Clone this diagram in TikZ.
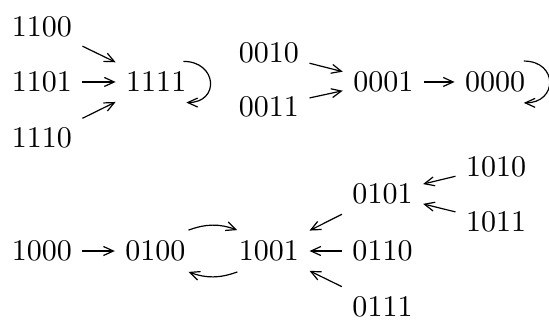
\documentclass[tikz,border=0pt]{standalone}
\usepackage{tikz}
\usetikzlibrary{arrows.meta}

\begin{document}
\begin{tikzpicture}
		\tikzstyle{etat} = [inner sep=3.33pt]
		\tikzstyle{fleche} = [-{Straight Barb[length=3.3pt,width=3pt]},line width=0.4pt]
		
		\useasboundingbox (0,0) rectangle (6.43,3.75);
		
		\node[etat](A1) at (0.49,3.44) {1100};
		\node[etat](A2) at (0.49,2.79) {1101};
		\node[etat](A3) at (0.49,2.13) {1110};
		\node[etat](F) at (1.83,2.79) {1111};
		
		\node[etat](B1) at (3.15,3.13) {0010};
		\node[etat](B2) at (3.15,2.50) {0011};
		\node[etat](C) at (4.49,2.79) {0001};
		\node[etat](Z) at (5.80,2.79) {0000};
		
		\node[etat](H) at (0.49,0.81) {1000};
		\node[etat](Q) at (1.82,0.81) {0100};
		\node[etat](N) at (3.15,0.81) {1001};
		\node[etat](S) at (4.48,0.81) {0110};
		\node[etat](P) at (4.48,1.48) {0101};
		\node[etat](T) at (4.48,0.16) {0111};
		\node[etat](D1) at (5.81,1.80) {1010};
		\node[etat](D2) at (5.81,1.15) {1011};
		
		\draw[fleche] (A1) -- (F);
		\draw[fleche] (A2) -- (F);
		\draw[fleche] (A3) -- (F);
		\draw[fleche] ([xshift=-4.5pt]F.north east) to[out=0,in=0,looseness=2.1] ([xshift=-3.5pt]F.south east);
		
		\draw[fleche] (B1) -- (C);
		\draw[fleche] (B2) -- (C);
		\draw[fleche] (C) -- (Z);
		\draw[fleche] ([xshift=-4pt]Z.north east) to[out=0,in=0,looseness=2.1] ([xshift=-4pt]Z.south east);
		
		\draw[fleche] (H) -- (Q);
		\draw[fleche] ([xshift=-2.5pt]Q.north east) to[bend left=20] ([xshift=3pt]N.north west);
		\draw[fleche] ([xshift=3pt]N.south west) to[bend left=20] ([xshift=-2.5pt]Q.south east);
		\draw[fleche] (P) -- (N);
		\draw[fleche] (S) -- (N);
		\draw[fleche] (T) -- (N);
		\draw[fleche] (D1) -- (P);
		\draw[fleche] (D2) -- (P);
		
\end{tikzpicture}
\end{document}
